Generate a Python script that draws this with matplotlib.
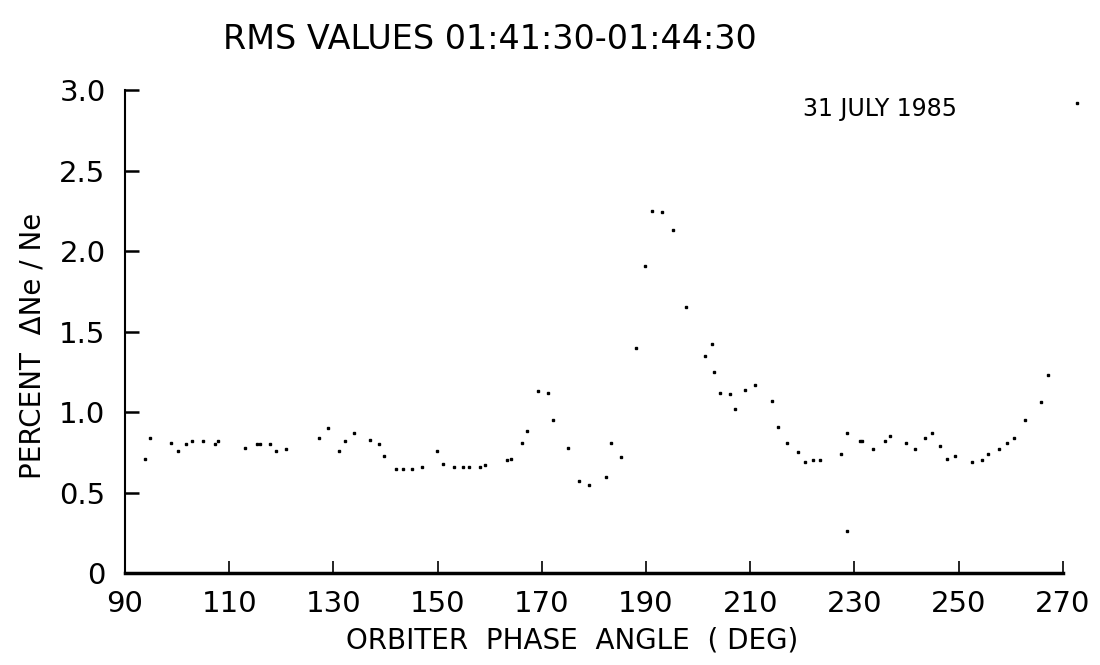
import matplotlib
matplotlib.use("Agg")
import matplotlib.pyplot as plt

# Orbiter phase angle (deg) and RMS percent dNe/Ne
phase = [93.8, 94.8, 98.8, 100.1, 101.8, 102.9, 104.9, 107.3, 107.9, 113.1,
         115.4, 115.9, 117.9, 119.0, 121.0, 127.2, 128.9, 131.1, 132.2, 133.9,
         137.0, 138.7, 139.7, 142.1, 143.4, 145.1, 147.0, 149.8, 151.0, 153.1,
         154.9, 156.1, 158.1, 159.1, 163.3, 164.1, 166.1, 167.2, 169.3, 171.2,
         172.2, 175.1, 177.2, 179.0, 182.3, 183.3, 185.1, 188.1, 189.8, 191.2,
         193.1, 195.2, 197.7, 201.3, 202.7, 203.1, 204.2, 206.2, 207.1, 208.9,
         210.9, 214.1, 215.3, 217.1, 219.2, 220.5, 222.1, 223.3, 227.5, 228.6,
         228.6, 231.1, 231.5, 233.5, 235.8, 236.8, 239.8, 241.6, 243.6, 244.9,
         246.5, 247.8, 249.3, 252.6, 254.4, 255.6, 257.8, 259.3, 260.6, 262.7,
         265.8, 267.2, 272.7]
rms = [0.71, 0.84, 0.81, 0.76, 0.80, 0.82, 0.82, 0.80, 0.82, 0.78,
       0.80, 0.80, 0.80, 0.76, 0.77, 0.84, 0.90, 0.76, 0.82, 0.87,
       0.83, 0.80, 0.73, 0.65, 0.65, 0.65, 0.66, 0.76, 0.68, 0.66,
       0.66, 0.66, 0.66, 0.67, 0.70, 0.71, 0.81, 0.88, 1.13, 1.12,
       0.95, 0.78, 0.57, 0.55, 0.60, 0.81, 0.72, 1.40, 1.91, 2.25,
       2.24, 2.13, 1.65, 1.35, 1.42, 1.25, 1.12, 1.11, 1.02, 1.14,
       1.17, 1.07, 0.91, 0.81, 0.75, 0.69, 0.70, 0.70, 0.74, 0.87,
       0.26, 0.82, 0.82, 0.77, 0.82, 0.85, 0.81, 0.77, 0.84, 0.87,
       0.79, 0.71, 0.73, 0.69, 0.70, 0.74, 0.77, 0.81, 0.84, 0.95,
       1.06, 1.23, 2.92]

xticks = [90, 110, 130, 150, 170, 190, 210, 230, 250, 270]
yticks = [0, 0.5, 1.0, 1.5, 2.0, 2.5, 3.0]
ytick_labels = ["0", "0.5", "1.0", "1.5", "2.0", "2.5", "3.0"]

plt.rcParams['font.family'] = ['DejaVu Sans']

fig = plt.figure(figsize=(11, 6.65), dpi=100)
ax = fig.add_axes([0.1136, 0.138, 0.8527, 0.7267])

ax.plot(phase, rms, linestyle='none', marker='s', markersize=1.6,
        color='black', clip_on=False)

ax.set_xlim(90, 270)
ax.set_ylim(0, 3.0)
ax.set_xticks(xticks)
ax.set_yticks(yticks)
ax.set_yticklabels(ytick_labels)

for s in ['top', 'right']:
    ax.spines[s].set_visible(False)
ax.spines['left'].set_linewidth(1.5)
ax.spines['bottom'].set_linewidth(2.5)

ax.tick_params(axis='y', direction='in', length=10, width=1.8, pad=14,
               labelsize=21)
ax.tick_params(axis='x', direction='in', length=9, width=1.2, pad=12,
               labelsize=21)

ax.set_xlabel("ORBITER  PHASE  ANGLE  ( DEG)", fontsize=20)
ax.set_ylabel("PERCENT  \u0394Ne / Ne", fontsize=20)
ax.yaxis.set_label_coords(-0.084, 0.47)
ax.xaxis.set_label_coords(0.477, -0.11)

fig.text(0.445, 0.94, "RMS VALUES 01:41:30-01:44:30", ha='center',
         va='center', fontsize=24)
ax.text(0.723, 0.96, "31 JULY 1985", transform=ax.transAxes, ha='left',
        va='center', fontsize=17)

fig.savefig("out.png", dpi=100, facecolor='white')
